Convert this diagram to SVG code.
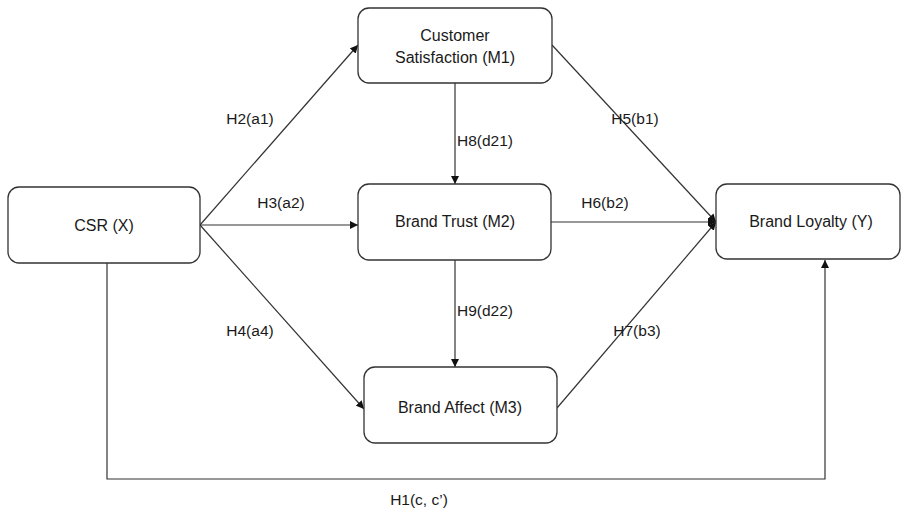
<svg xmlns="http://www.w3.org/2000/svg" width="904" height="513" viewBox="0 0 904 513">
<style>
.box{fill:#fff;stroke:#333;stroke-width:1.3}
.t{font-family:"Liberation Sans",Arial,sans-serif;font-size:16px;fill:#1a1a1a;text-anchor:middle}
.l{font-family:"Liberation Sans",Arial,sans-serif;font-size:15.5px;fill:#1a1a1a;text-anchor:middle}
.c{stroke:#333;stroke-width:1.2;fill:none}
</style>
<defs>
<marker id="a" viewBox="0 0 10 10" refX="10" refY="5" markerWidth="8" markerHeight="8" markerUnits="userSpaceOnUse" orient="auto">
<path d="M0,0 L10,5 L0,10 z" fill="#111"/>
</marker>
</defs>
<rect width="904" height="513" fill="#fff"/>
<g id="connectors">
<path class="c" d="M200,225 L358,45" marker-end="url(#a)"/>
<path class="c" d="M200,225 L358,225" marker-end="url(#a)"/>
<path class="c" d="M200,225 L364,409" marker-end="url(#a)"/>
<path class="c" d="M455,83 L455,184" marker-end="url(#a)"/>
<path class="c" d="M455,260 L455,367" marker-end="url(#a)"/>
<path class="c" d="M552,45 L716,222" marker-end="url(#a)"/>
<path class="c" d="M551,222 L716,222" marker-end="url(#a)"/>
<path class="c" d="M557,408 L716,222" marker-end="url(#a)"/>
<path class="c" d="M107,263 L107,479 L825,479 L825,260" marker-end="url(#a)"/>
<text class="l" x="250" y="124">H2(a1)</text>
<text class="l" x="281" y="208">H3(a2)</text>
<text class="l" x="250" y="336">H4(a4)</text>
<text class="l" x="457" y="146" style="text-anchor:start">H8(d21)</text>
<text class="l" x="457" y="316" style="text-anchor:start">H9(d22)</text>
<text class="l" x="635" y="124">H5(b1)</text>
<text class="l" x="605" y="208">H6(b2)</text>
<text class="l" x="637" y="336">H7(b3)</text>
<text class="l" x="419" y="505">H1(c, c’)</text>
</g>
<g id="csr">
<rect class="box" x="8" y="187" width="192" height="76" rx="11"/>
<text class="t" x="104" y="231">CSR (X)</text>
</g>
<g id="m1">
<rect class="box" x="358" y="8" width="194" height="75" rx="11"/>
<text class="t" x="455" y="41">Customer</text>
<text class="t" x="455" y="63">Satisfaction (M1)</text>
</g>
<g id="m2">
<rect class="box" x="358" y="184" width="193" height="76" rx="11"/>
<text class="t" x="455" y="227">Brand Trust (M2)</text>
</g>
<g id="m3">
<rect class="box" x="364" y="367" width="193" height="76" rx="11"/>
<text class="t" x="460" y="413">Brand Affect (M3)</text>
</g>
<g id="y">
<rect class="box" x="716" y="184" width="184" height="75" rx="11"/>
<text class="t" x="811" y="227">Brand Loyalty (Y)</text>
</g>
</svg>
